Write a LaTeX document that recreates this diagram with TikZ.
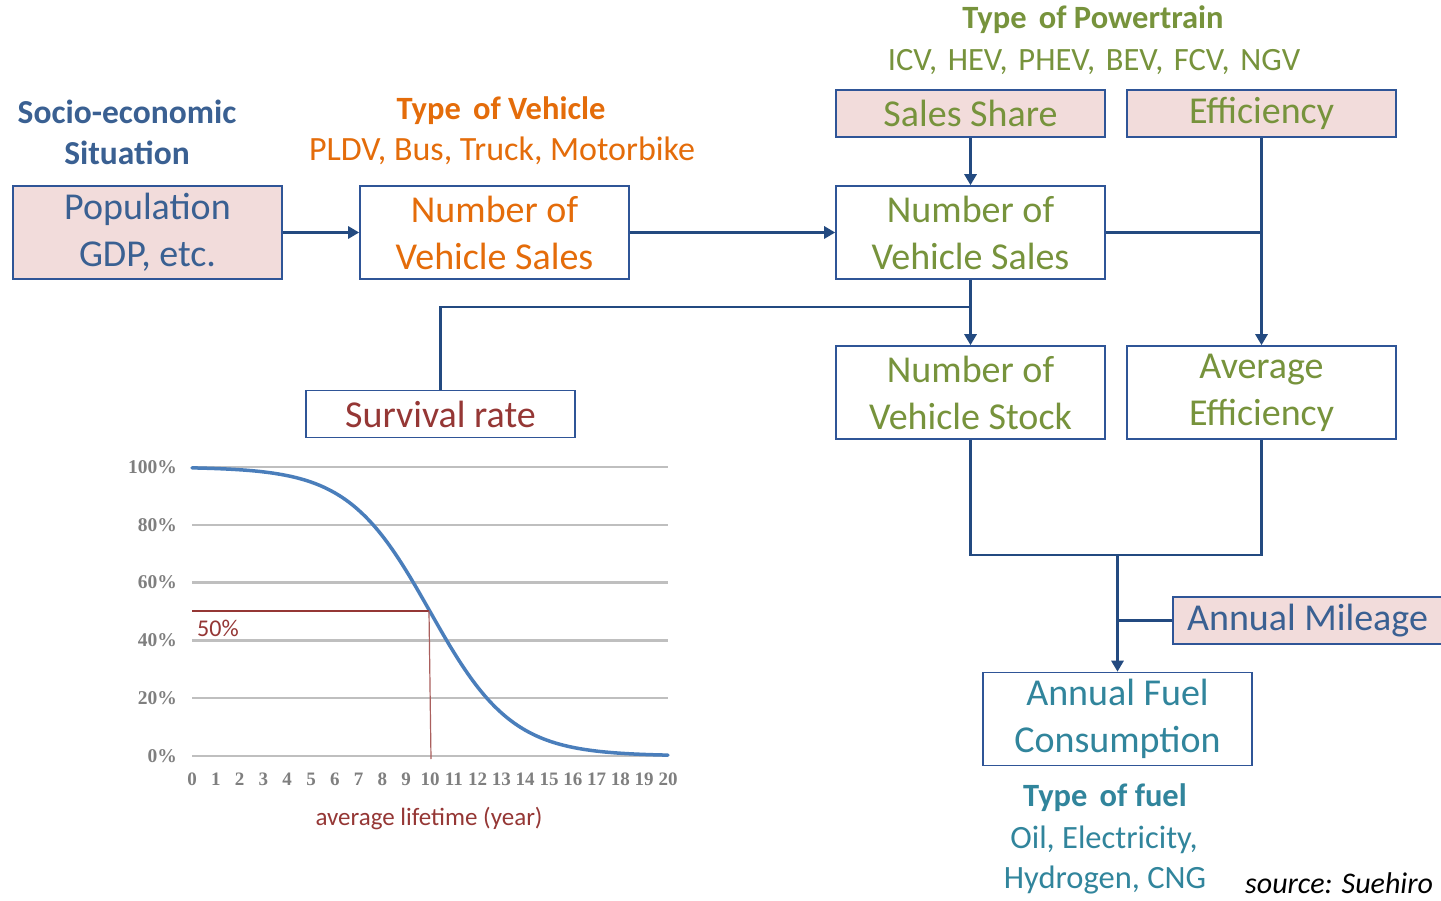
\documentclass[tikz,border=0pt]{standalone}
\usepackage{fontspec}
\setmainfont{Carlito}
\newfontfamily\chartfont{Liberation Serif}
\usetikzlibrary{arrows.meta,calc}
\definecolor{linec}{HTML}{234A80}
\definecolor{boxc}{HTML}{2F5597}
\definecolor{pinkc}{HTML}{F2DCDB}
\definecolor{greenc}{HTML}{77933C}
\definecolor{orangec}{HTML}{E46C0A}
\definecolor{bluet}{HTML}{3A6092}
\definecolor{tealc}{HTML}{31859C}
\definecolor{redc}{HTML}{953735}
\definecolor{gridc}{HTML}{BFBFBF}
\definecolor{labgray}{HTML}{7F7F7F}
\definecolor{curvec}{HTML}{4A7EBB}
\begin{document}
\begin{tikzpicture}[x=1pt,y=-1pt,
  box/.style={draw=boxc, line width=1.6pt, minimum width=269pt, minimum height=93pt, inner sep=0pt, align=center, font=\fontsize{38}{47}\selectfont},
  sbox/.style={box, minimum height=47pt},
  pinkbox/.style={fill=pinkc},
  conn/.style={draw=linec, line width=2.8pt},
  arr/.style={conn, -{Triangle[length=11pt,width=12pt]}},
  head/.style={font=\fontsize{32.5}{38}\selectfont\bfseries, anchor=base},
  sub/.style={font=\fontsize{32.5}{38}\selectfont, anchor=base},
  ylab/.style={anchor=east, font=\chartfont\bfseries\fontsize{19.5}{22}\selectfont, text=labgray, inner sep=0pt},
  xlab/.style={font=\chartfont\bfseries\fontsize{19}{22}\selectfont, text=labgray, inner sep=0pt},
]
\useasboundingbox (0,0) rectangle (1441,901);
\clip (0,0) rectangle (1441,901);
\fill[white] (0,0) rectangle (1441,901);

% headings
\node[head, text=bluet, font=\fontsize{33.5}{38}\selectfont\bfseries] (h1a) at (127,124) {Socio-economic};
\node[head, text=bluet, font=\fontsize{33.5}{38}\selectfont\bfseries] (h1b) at (127,165) {Situation};
\node[head, text=orangec] (h2a) at (501,120) {Type\hspace{0.15em} of Vehicle};
\node[sub, text=orangec, font=\fontsize{34}{38}\selectfont] (h2b) at (502,161) {PLDV, Bus, Truck, Motorbike};
\node[head, text=greenc] (h3a) at (1093,29) {Type\hspace{0.15em} of Powertrain};
\node[sub, text=greenc] (h3b) at (1094,71) {ICV,\hspace{0.1em} HEV,\hspace{0.1em} PHEV,\hspace{0.1em} BEV,\hspace{0.1em} FCV,\hspace{0.1em} NGV};
\node[head, text=tealc] (h4a) at (1105,806) {Type\hspace{0.15em} of fuel};
\node[sub, text=tealc] (h4b) at (1104,848) {Oil, Electricity,};
\node[sub, text=tealc] (h4c) at (1105,888) {Hydrogen, CNG};
\node[anchor=base west, font=\fontsize{30}{36}\selectfont\itshape, text=black, inner sep=0pt] (src) at (1245,893) {source: Suehiro};

% boxes
\node[box,pinkbox,text=bluet] (pop) at (147.5,232.5) {Population\\GDP, etc.};
\node[box,text=orangec] (nvs1) at (494.5,232.5) {Number of\\Vehicle Sales};
\node[sbox,pinkbox,text=greenc] (share) at (970.5,113.5) {Sales Share};
\node[sbox,pinkbox,text=greenc] (eff) at (1261.5,113.5) {Efficiency};
\node[box,text=greenc] (nvs2) at (970.5,232.5) {Number of\\Vehicle Sales};
\node[box,text=greenc] (stock) at (970.5,392.5) {Number of\\Vehicle Stock};
\node[box,text=greenc] (avg) at (1261.5,392.5) {Average\\Efficiency};
\node[sbox,text=redc] (surv) at (440.5,414) {Survival rate};
\node[sbox,pinkbox,text=bluet] (mile) at (1307.5,620.5) {Annual Mileage};
\node[box,text=tealc] (fuel) at (1117.5,719) {Annual Fuel\\Consumption};

% connectors
\draw[arr] (pop.east) -- (nvs1.west);
\draw[arr] (nvs1.east) -- (nvs2.west);
\draw[arr] (share.south) -- (nvs2.north);
\draw[arr] (eff.south) -- (avg.north);
\draw[conn] (nvs2.east) -- (nvs2.east -| eff.south);
\draw[arr] (nvs2.south) -- (stock.north);
\coordinate (jsurv) at (970.5,307);
\draw[conn] (jsurv) -| (surv.north);
\coordinate (jbot) at (1117.5,555);
\draw[conn] (stock.south) |- (avg.south |- jbot) -- (avg.south);
\draw[arr] (jbot) -- (fuel.north);
\draw[conn] (mile.west) -- (mile.west -| fuel.north);

% chart
\foreach \v in {0,20,40,60,80,100}{
  \draw[gridc, line width=2.4pt] (192,{756-2.89*\v}) -- (668,{756-2.89*\v});
  \node[ylab] (yl\v) at (177,{756-2.89*\v}) {\v\%};
}
\foreach \i in {0,...,20}{
  \node[xlab] (xl\i) at ({192+23.8*\i},779) {\i};
}
\draw[curvec, line width=3.5pt, line cap=round, line join=round] plot[domain=0:20, samples=101, smooth]
  ({192+23.8*\x},{756-289/(1+exp(0.58*(\x-10)))});
\coordinate (half) at (429,611);
\draw[redc, line width=2pt] (192,611) -- (half);
\draw[redc!80, line width=1.2pt] (half) -- (431,759);
\node[text=redc, font=\fontsize{24}{28}\selectfont, anchor=base west, inner sep=0pt] (p50) at (197,636) {50\%};
\node[text=redc, font=\fontsize{25}{30}\selectfont, anchor=base, inner sep=0pt] (xt) at (429,825) {average lifetime (year)};
\end{tikzpicture}
\end{document}
